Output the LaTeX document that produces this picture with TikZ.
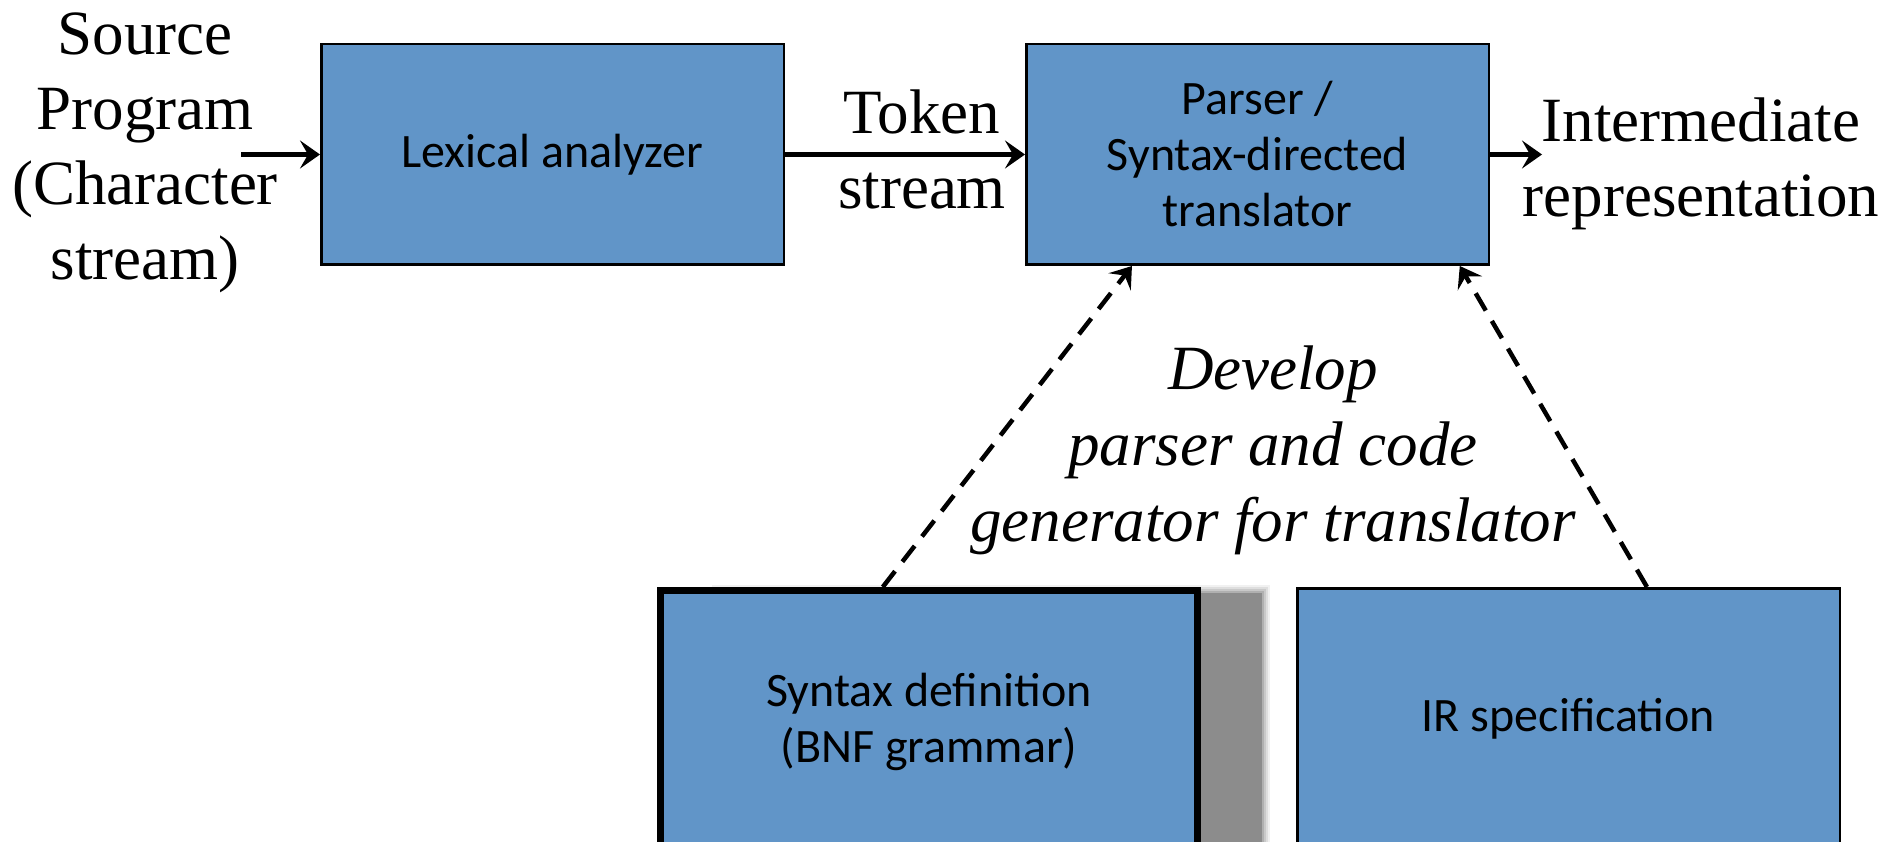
\documentclass[tikz,border=0pt]{standalone}
\usepackage{fontspec}
\setmainfont{Liberation Serif}
\newfontfamily\boxfont{Carlito}
\usetikzlibrary{arrows.meta,calc}
\definecolor{boxblue}{RGB}{97,149,200}
\definecolor{shadowgray}{RGB}{140,140,140}
\begin{document}
\begin{tikzpicture}[x=1pt,y=-1pt,
  blk/.style={draw=black,line width=2.5pt,fill=boxblue,font=\boxfont\fontsize{48}{56}\selectfont,align=center,inner sep=0pt},
  lbl/.style={font=\fontsize{63}{75}\selectfont,align=center,inner sep=0pt},
  arr/.style={line width=4.5pt,-{Stealth[length=20pt,width=28pt,inset=8pt]}},
  darr/.style={arr,dash pattern=on 20pt off 12pt}]
\clip (0,0) rectangle (1889,842);
\fill[white] (0,0) rectangle (1889,842);

% top row
\node[blk,minimum width=462.5pt,minimum height=220.5pt] (lex) at (552.5,154.5) {Lexical analyzer};
\node[blk,minimum width=462.5pt,minimum height=220.5pt] (par) at (1257.5,154.5) {Parser /\\Syntax-directed\\translator};

\node[lbl] (src) at (145,153) {Source\\Program\\(Character\\stream)};
\node[lbl] (tok) at (922,149) {Token\\stream};
\node[lbl] (ir) at (1701,164) {Intermediate\\representation};
\node[lbl,font=\itshape\fontsize{63}{76}\selectfont] (dev) at (1273,450) {Develop\\parser and code\\generator for translator};

\coordinate (srcin) at (241,154.5);
\coordinate (irout) at (1542,154.5);

% shadow of syntax box
\foreach \i/\o in {8/0.12,6/0.18,4/0.25,2/0.4}{
  \fill[shadowgray,opacity=\o] (720-\i,593-\i) rectangle (1262+\i,870);
}
\fill[shadowgray] (720,593) rectangle (1262,870);

% bottom boxes
\node[blk,line width=7pt,minimum width=537pt,minimum height=262pt] (syn) at (929,721.5) {Syntax definition\\(BNF grammar)};
\node[blk,minimum width=542.5pt,minimum height=262pt] (irs) at (1568.5,719.25) {IR specification};

% connectors
\draw[arr] (srcin) -- (lex.west);
\draw[arr] (lex.east) -- (par.west);
\draw[arr] (par.east) -- (irout);
\draw[darr] ($(syn.north west)!0.415!(syn.north east)$) -- ($(par.south west)!0.23!(par.south east)$);
\draw[darr] ($(irs.north west)!0.644!(irs.north east)$) -- ($(par.south west)!0.935!(par.south east)$);
\end{tikzpicture}
\end{document}
